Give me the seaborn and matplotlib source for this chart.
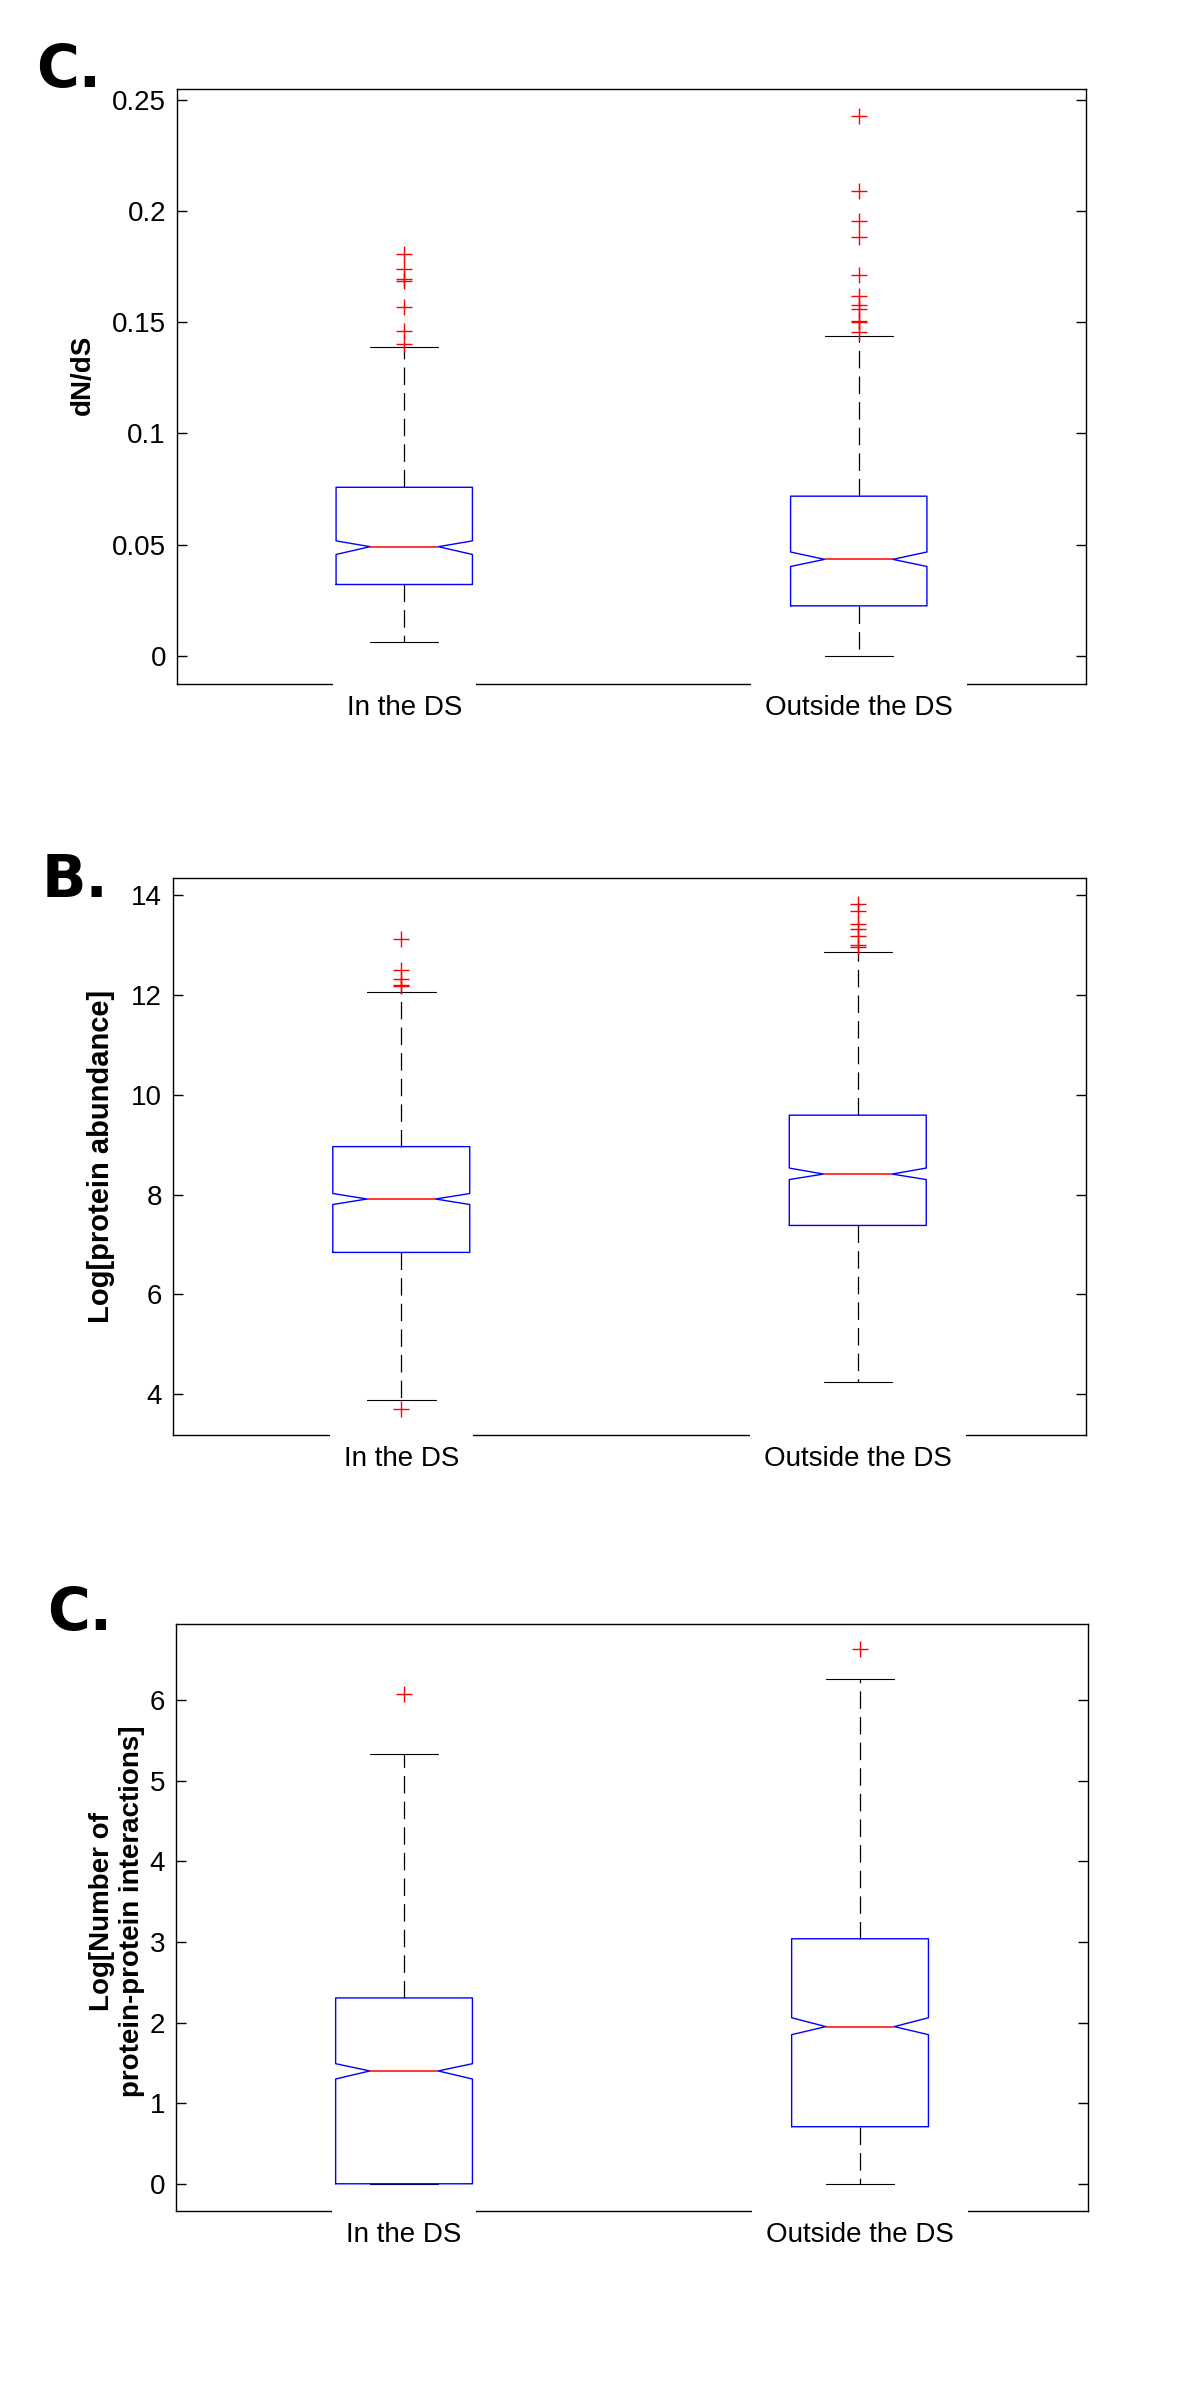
import pandas as pd
import seaborn as sns
import matplotlib.pyplot as plt

groups = ["In the DS", "Outside the DS"]

# top panel: dN/dS
dnds_q1 = [0.0321, 0.0225]
dnds_med = [0.0491, 0.0434]
dnds_q3 = [0.0758, 0.0718]
dnds_lo = [0.0063, 0.0]
dnds_hi = [0.1388, 0.1439]
dnds_notch_lo = [0.0456, 0.0402]
dnds_notch_hi = [0.0517, 0.0467]
dnds_out_in = [0.1808, 0.1740, 0.1693, 0.1685, 0.1570, 0.1461, 0.1403]
dnds_out_outside = [0.2425, 0.2088, 0.1953, 0.1885, 0.1713, 0.1620,
                    0.1576, 0.1560, 0.1507, 0.1500, 0.1454]
dnds_ticks = [0, 0.05, 0.1, 0.15, 0.2, 0.25]
dnds_ticklabels = ["0", "0.05", "0.1", "0.15", "0.2", "0.25"]

# middle panel: protein abundance
abund_q1 = [6.84, 7.38]
abund_med = [7.91, 8.41]
abund_q3 = [8.96, 9.59]
abund_lo = [3.89, 4.25]
abund_hi = [12.06, 12.86]
abund_notch_lo = [7.80, 8.30]
abund_notch_hi = [8.02, 8.53]
abund_out_in = [13.13, 12.50, 12.32, 12.20, 12.18, 3.71]
abund_out_outside = [13.82, 13.68, 13.43, 13.32, 13.18, 13.00, 12.96]
abund_ticks = [4, 6, 8, 10, 12, 14]
abund_ticklabels = ["4", "6", "8", "10", "12", "14"]

# bottom panel: protein-protein interactions
ppi_q1 = [0.0, 0.708]
ppi_med = [1.40, 1.95]
ppi_q3 = [2.306, 3.04]
ppi_lo = [0.0, 0.0]
ppi_hi = [5.33, 6.26]
ppi_notch_lo = [1.30, 1.85]
ppi_notch_hi = [1.49, 2.06]
ppi_out_in = [6.08]
ppi_out_outside = [6.63]
ppi_ticks = [0, 1, 2, 3, 4, 5, 6]
ppi_ticklabels = ["0", "1", "2", "3", "4", "5", "6"]

sns.set_theme(style="white")
plt.rcParams["font.family"] = ["Liberation Sans", "DejaVu Sans"]
plt.rcParams["axes.edgecolor"] = "black"
plt.rcParams["axes.linewidth"] = 1.0
plt.rcParams["text.color"] = "black"
plt.rcParams["axes.labelcolor"] = "black"


def box_panel(ax, q1, med, q3, lo, hi, nlo, nhi, fliers, ylim, ticks, ticklabels,
              ylabel, label_size, label_x, label_y):
    # summary stats, handed to the boxplot instead of raw data
    stats = []
    for i in range(len(groups)):
        stats.append(dict(q1=q1[i], med=med[i], q3=q3[i], whislo=lo[i], whishi=hi[i],
                          cilo=nlo[i], cihi=nhi[i], fliers=fliers[i]))
    df = pd.DataFrame({"group": groups, "value": med})
    sns.boxplot(data=df, x="group", y="value", ax=ax, width=0.3, fill=False,
                notch=True, bxpstats=stats,
                boxprops=dict(color="blue", linewidth=1.0),
                medianprops=dict(color="red", linewidth=1.1),
                whiskerprops=dict(color="black", linewidth=0.9,
                                  linestyle=(0, (14, 6.5)), zorder=1.9),
                capprops=dict(color="black", linewidth=0.8, zorder=1.9),
                flierprops=dict(marker="+", markeredgecolor="red",
                                markersize=12, markeredgewidth=1.0))
    ax.set_ylim(*ylim)
    ax.set_yticks(ticks, ticklabels)
    ax.set_xticks(range(len(groups)), groups,
                  bbox=dict(boxstyle="square,pad=0.5", fc="white", ec="none"))
    ax.xaxis.set_zorder(3)
    ax.tick_params(axis="y", direction="in", length=7, width=1, left=True,
                   right=True, labelsize=20, pad=8, colors="black")
    ax.tick_params(axis="x", length=0, labelsize=20, pad=8, colors="black")
    ax.set_xlabel("")
    ax.set_ylabel(ylabel, fontsize=label_size, fontweight="bold")
    ax.yaxis.set_label_coords(label_x, label_y)
    for s in ax.spines.values():
        s.set_visible(True)
        s.set_color("black")
        s.set_linewidth(1.0)


fig = plt.figure(figsize=(12, 23.83), dpi=100)
ax1 = fig.add_axes([0.1475, 0.7130, 0.7575, 0.2497])
ax2 = fig.add_axes([0.1442, 0.3978, 0.7608, 0.2337])
ax3 = fig.add_axes([0.1467, 0.0722, 0.7600, 0.2463])

box_panel(ax1, dnds_q1, dnds_med, dnds_q3, dnds_lo, dnds_hi, dnds_notch_lo,
          dnds_notch_hi, [dnds_out_in, dnds_out_outside], (-0.0126, 0.2549),
          dnds_ticks, dnds_ticklabels, "dN/dS", 20, -0.089, 0.52)
box_panel(ax2, abund_q1, abund_med, abund_q3, abund_lo, abund_hi, abund_notch_lo,
          abund_notch_hi, [abund_out_in, abund_out_outside], (3.18, 14.34),
          abund_ticks, abund_ticklabels, "Log[protein abundance]", 21, -0.0635, 0.5)
box_panel(ax3, ppi_q1, ppi_med, ppi_q3, ppi_lo, ppi_hi, ppi_notch_lo,
          ppi_notch_hi, [ppi_out_in, ppi_out_outside], (-0.337, 6.945),
          ppi_ticks, ppi_ticklabels,
          "Log[Number of\nprotein-protein interactions]", 20, -0.034, 0.51)

letter_kw = dict(fontsize=42, fontweight="bold", va="baseline",
                 family=["DejaVu Sans"], color="black")
fig.text(0.030, 0.9635, "C.", **letter_kw)
fig.text(0.035, 0.6236, "B.", **letter_kw)
fig.text(0.039, 0.3160, "C.", **letter_kw)

fig.savefig("out.png", dpi=100)
